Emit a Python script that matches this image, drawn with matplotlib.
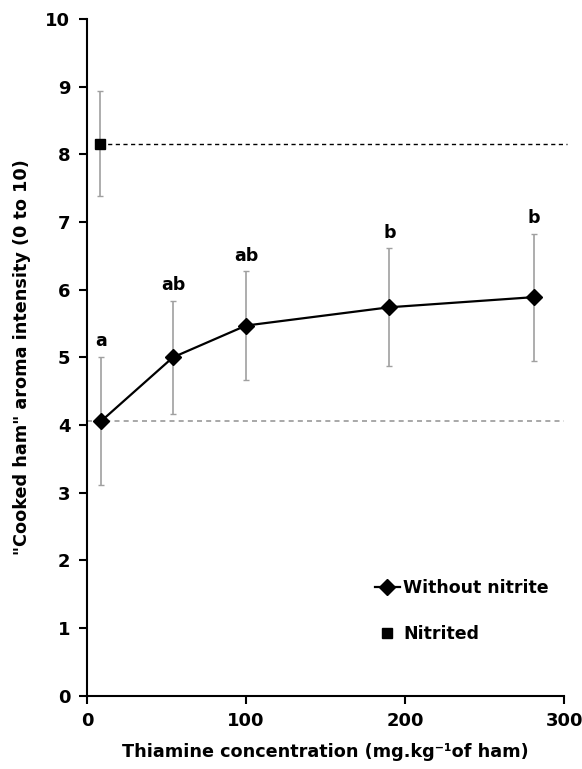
import matplotlib.pyplot as plt

# thiamine series (without nitrite)
thiamine = [9, 54, 100, 190, 281]
aroma = [4.06, 5.00, 5.47, 5.74, 5.89]
aroma_err = [0.95, 0.83, 0.80, 0.87, 0.94]
letters = ["a", "ab", "ab", "b", "b"]

# nitrited control
nitrited_x = [8]
nitrited_y = [8.16]
nitrited_err = [0.77]


def main():
    plt.rcParams["font.family"] = ["DejaVu Sans"]
    plt.rcParams["font.weight"] = "bold"

    fig = plt.figure(figsize=(5.82, 7.69), dpi=100)
    ax = fig.add_axes([0.1495, 0.0953, 0.82, 0.88])

    ax.hlines(nitrited_y[0], nitrited_x[0], 302, colors="black",
              linestyles=(0, (3, 2.5)), linewidth=1, clip_on=False, zorder=1)
    ax.hlines(aroma[0], 0, 300, colors="#999999",
              linestyles=(0, (3, 2.5)), linewidth=1.2, zorder=1)

    ax.errorbar(thiamine, aroma, yerr=aroma_err, fmt="none", ecolor="#a0a0a0",
                elinewidth=1.2, capsize=2.5, capthick=1, zorder=2)
    ax.errorbar(nitrited_x, nitrited_y, yerr=nitrited_err, fmt="none",
                ecolor="#a0a0a0", elinewidth=1.2, capsize=2.5, capthick=1, zorder=2)

    ax.plot(thiamine, aroma, color="black", marker="D", markersize=8.5,
            linewidth=1.6, label="Without nitrite", zorder=3)
    ax.plot(nitrited_x, nitrited_y, color="black", marker="s", markersize=6.5,
            linestyle="none", label="Nitrited", zorder=3)

    for x, y, e, t in zip(thiamine, aroma, aroma_err, letters):
        ax.text(x, y + e + 0.1, t, ha="center", va="bottom",
                fontsize=12.5, fontweight="bold")

    ax.set_xlim(0, 300)
    ax.set_ylim(0, 10)
    ax.set_xticks([0, 100, 200, 300])
    ax.set_yticks(range(0, 11))
    ax.tick_params(direction="out", length=6, width=1.5, labelsize=13, pad=6)
    for lab in ax.get_xticklabels() + ax.get_yticklabels():
        lab.set_fontweight("bold")

    for side in ["top", "right"]:
        ax.spines[side].set_visible(False)
    for side in ["left", "bottom"]:
        ax.spines[side].set_linewidth(1.5)

    ax.set_xlabel("Thiamine concentration (mg.kg\u207b\u00b9of ham)",
                  fontsize=12.7, fontweight="bold", labelpad=9)
    ax.set_ylabel('"Cooked ham" aroma intensity (0 to 10)',
                  fontsize=12.7, fontweight="bold", labelpad=10)

    ax.legend(loc="lower right", bbox_to_anchor=(1.0, 0.055), frameon=False,
              handlelength=1.4, handletextpad=0.2, labelspacing=1.6,
              prop={"size": 12.5, "weight": "bold"})

    fig.savefig("out.png", dpi=100)


if __name__ == "__main__":
    main()
